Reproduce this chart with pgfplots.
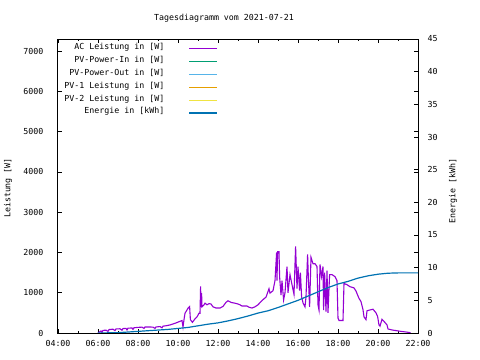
\documentclass[border=0pt]{standalone}
\usepackage{pgfplots}
\pgfplotsset{compat=1.18}
\usepackage{fontspec}
\setmainfont{DejaVu Sans Mono}
\setmonofont{DejaVu Sans Mono}
\newcommand{\gf}{\fontsize{8.3bp}{10bp}\selectfont}
\definecolor{gpurple}{HTML}{9400D3}
\definecolor{ggreen}{HTML}{009E73}
\definecolor{glblue}{HTML}{56B4E9}
\definecolor{gorange}{HTML}{E69F00}
\definecolor{gyellow}{HTML}{F0E442}
\definecolor{gblue}{HTML}{0072B2}

\pgfplotstableread{
t w
6.00 0
6.05 20
6.15 50
6.20 10
6.25 65
6.40 70
6.50 40
6.55 85
6.75 95
6.85 60
6.90 100
7.10 105
7.20 70
7.25 110
7.40 115
7.45 75
7.50 120
7.70 125
7.75 90
7.80 130
8.00 140
8.20 145
8.30 115
8.35 150
8.60 150
8.75 145
8.85 115
8.90 150
9.10 160
9.20 130
9.25 170
9.40 180
9.60 200
9.75 225
9.90 250
10.05 280
10.20 310
10.25 150
10.30 330
10.35 490
10.50 615
10.58 655
10.62 330
10.72 265
10.85 350
10.95 400
11.05 490
11.10 490
11.13 1160
11.15 650
11.18 990
11.20 650
11.30 700
11.35 740
11.45 700
11.55 730
11.65 720
11.75 650
11.90 620
12.10 620
12.25 660
12.40 760
12.50 800
12.65 760
12.85 740
13.00 720
13.10 700
13.20 670
13.45 670
13.55 640
13.70 620
13.85 650
14.00 700
14.15 780
14.30 850
14.40 890
14.55 1100
14.60 990
14.75 1050
14.85 1300
14.93 2000
14.95 1300
14.98 2020
15.05 2020
15.08 1400
15.15 940
15.20 1300
15.28 820
15.35 1000
15.45 1650
15.50 1000
15.60 1450
15.70 1200
15.80 960
15.88 2150
15.95 1100
16.00 1650
16.08 1050
16.12 1500
16.18 900
16.25 750
16.35 650
16.40 900
16.48 1950
16.52 1350
16.58 650
16.65 1880
16.75 1720
16.85 1720
16.95 1650
17.00 700
17.05 570
17.10 1700
17.18 1400
17.25 1650
17.28 570
17.33 1500
17.40 530
17.45 1550
17.50 500
17.58 1450
17.70 1450
17.85 1400
17.95 1300
18.00 370
18.05 310
18.25 310
18.30 1230
18.45 1200
18.60 1150
18.80 1120
18.90 1040
19.05 860
19.15 780
19.25 580
19.30 400
19.40 330
19.45 550
19.58 570
19.75 590
19.90 500
19.98 410
20.05 200
20.10 170
20.20 340
20.35 260
20.45 200
20.50 100
20.70 75
20.90 60
21.15 40
21.40 25
21.60 10
21.62 0
}\acdata

\pgfplotstableread{
t e
6.0 0
7.0 0.05
7.5 0.15
8.0 0.25
8.5 0.35
9.0 0.45
9.5 0.55
10.0 0.7
10.5 0.85
11.0 1.1
11.5 1.35
12.0 1.55
12.5 1.85
13.0 2.2
13.5 2.6
14.0 3.05
14.5 3.4
15.0 3.9
15.5 4.45
16.0 5.0
16.5 5.65
17.0 6.3
17.5 6.95
18.0 7.5
18.5 7.9
19.0 8.4
19.5 8.75
20.0 9.0
20.5 9.15
21.0 9.2
22.0 9.2
}\edata

\begin{document}
\begin{tikzpicture}
\useasboundingbox (0,0) rectangle (480bp,360bp);
\pgfplotsset{
  gpbase/.style={
    at={(58bp,27bp)}, anchor=south west,
    width=360bp, height=294bp, scale only axis,
    xmin=4, xmax=22,
    tick align=inside,
    major tick length=4bp, minor tick length=2bp,
    axis line style={line width=1bp},
    every tick/.style={black, line width=0.8bp},
    tick label style={font=\gf},
    /pgf/number format/assume math mode=true,
    /pgf/number format/set thousands separator={},
  }
}
\begin{axis}[gpbase,
  ymin=0, ymax=7300,
  xtick={4,6,...,22},
  xticklabels={04:00,06:00,08:00,10:00,12:00,14:00,16:00,18:00,20:00,22:00},
  minor xtick={5,7,...,21},
  xticklabel style={yshift=-4bp},
  ytick={0,1000,...,7000},
  yticklabel style={xshift=-11bp},
  legend plot pos=right,
  legend cell align=right,
  legend image code/.code={\draw[#1,line width=1.5bp] (0bp,-1.5bp) -- (28bp,-1.5bp);},
  legend style={draw=none, fill=none, font=\gf,
    at={(rel axis cs:0.444,0.985)}, anchor=north east,
    inner sep=0pt, outer sep=0pt, row sep=5.4bp, column sep=0pt,
    nodes={inner sep=0pt, outer sep=0pt, text height=6bp, text depth=1.5bp},
    /tikz/every odd column/.style={column sep=24bp}},
]
\addplot[color=gpurple, line width=1.1bp] table[x=t,y=w] {\acdata};
\addlegendentry{AC Leistung in [W]}
\addlegendimage{color=ggreen}
\addlegendentry{PV-Power-In in [W]}
\addlegendimage{color=glblue}
\addlegendentry{PV-Power-Out in [W]}
\addlegendimage{color=gorange}
\addlegendentry{PV-1 Leistung in [W]}
\addlegendimage{color=gyellow}
\addlegendentry{PV-2 Leistung in [W]}
\addlegendimage{color=gblue}
\addlegendentry{Energie in [kWh]}
\end{axis}
\begin{axis}[gpbase,
  ymin=0, ymax=45,
  axis y line*=right, axis x line=none,
  ytick={0,5,...,45},
  yticklabel style={xshift=6bp},
]
\addplot[gblue, line width=1.2bp] table[x=t,y=e] {\edata};
\end{axis}
\node[font=\gf] at (224bp,342bp) {Tagesdiagramm vom 2021-07-21};
\node[font=\gf, rotate=90] at (8bp,172bp) {Leistung [W]};
\node[font=\gf, rotate=90] at (453bp,169bp) {Energie [kWh]};
\end{tikzpicture}
\end{document}
